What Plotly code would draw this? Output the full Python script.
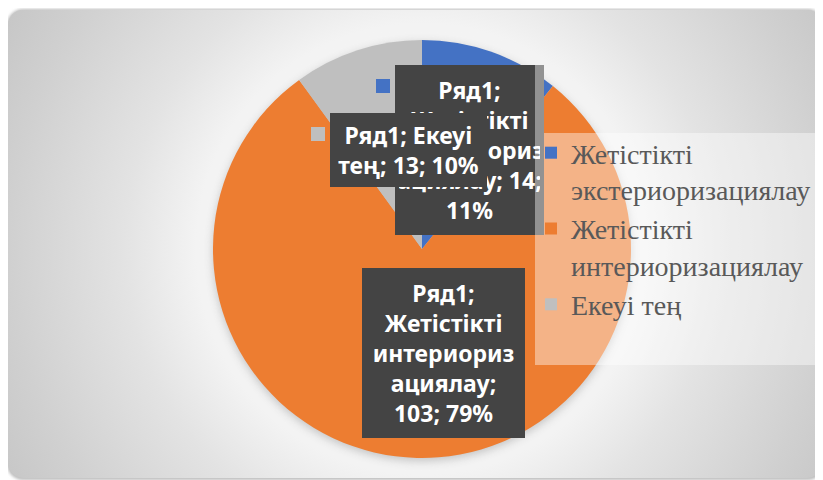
import base64
import plotly.graph_objects as go

# ---------------- data ----------------
SERIES = "Ряд1"
categories = ["Жетістікті экстериоризациялау", "Жетістікті интериоризациялау", "Екеуі тең"]
values = [14, 103, 13]
colors = ["#4472C4", "#ED7D31", "#BFBFBF"]

W, H = 823, 480
OFF = 8  # page body margin: page pixel -> figure pixel


def wrap(text, maxc, wordbreak=None, sep="<br>"):
    wb = wordbreak or maxc
    lines, cur = [], ""
    for w in text.split(" "):
        cand = (cur + " " + w) if cur else w
        if len(cand) <= maxc:
            cur = cand
            continue
        if cur:
            lines.append(cur)
            cur = ""
        while len(w) > maxc:
            lines.append(w[:wb])
            w = w[wb:]
        cur = w
    if cur:
        lines.append(cur)
    return sep.join(lines)


def px(x):
    return (x - OFF) / W


def py(y):
    return 1 - (y - OFF) / H


total = sum(values)
percents = [round(v / total * 100) for v in values]
full_labels = [f"{SERIES}; {c}; {v}; {p}%" for c, v, p in zip(categories, values, percents)]
legend_labels = [wrap(c, 18) for c in categories]

# ---------------- background (card with gradient + glow) ----------------
PCX, PCY = 422 - OFF, 249 - OFF
svg = f"""<svg xmlns="http://www.w3.org/2000/svg" width="{W}" height="{H}" viewBox="0 0 {W} {H}" preserveAspectRatio="none">
<defs>
<radialGradient id="g" gradientUnits="userSpaceOnUse" cx="{PCX}" cy="{PCY}" r="480">
<stop offset="0" stop-color="#f4f4f4"/>
<stop offset="0.47" stop-color="#f3f3f3"/>
<stop offset="0.62" stop-color="#e3e3e3"/>
<stop offset="0.86" stop-color="#d0d0d0"/>
<stop offset="1" stop-color="#c6c6c6"/>
</radialGradient>
<filter id="b" x="-20%" y="-20%" width="140%" height="140%"><feGaussianBlur stdDeviation="1.5"/></filter>
<filter id="b2" x="-20%" y="-20%" width="140%" height="140%"><feGaussianBlur stdDeviation="4"/></filter>
</defs>
<rect x="-1" y="1" width="817" height="471" rx="16" fill="#bdbdbd" filter="url(#b)"/>
<rect x="0" y="2" width="814" height="468" rx="15" fill="url(#g)"/>
<circle cx="{PCX}" cy="{PCY + 3}" r="209" fill="#8a8a8a" opacity="0.45" filter="url(#b2)"/>
</svg>"""
bg_src = "data:image/svg+xml;base64," + base64.b64encode(svg.encode("utf-8")).decode("ascii")

# ---------------- figure ----------------
fig = go.Figure()
fig.add_trace(go.Pie(
    labels=legend_labels,
    values=values,
    sort=False,
    direction="clockwise",
    rotation=0,
    marker=dict(colors=colors, line=dict(width=0)),
    textinfo="none",
    hoverinfo="label+value+percent",
    domain=dict(x=[px(213), px(631)], y=[py(458), py(40)]),
))

label_font = dict(family="Noto Sans, Liberation Sans, sans-serif", size=23, color="white", weight="bold")
BOX = "#444444"
PAD = 4
LEG_X0, LEG_X1, LEG_Y0, LEG_Y1 = 535, 818, 133, 365
# (left, top, right, bottom, maxc, wordbreak) in page pixels; gray drawn over blue
label_boxes = {
    0: (395, 65, 544, 235, 12, 11),
    2: (330, 113, 487, 187, 12, 12),
    1: (362, 268, 525, 438, 10, 10),
}


def box_ann(l, t, r, b, text, bg, font=None):
    return dict(
        text=text, x=px((l + r) / 2), y=py((t + b) / 2), xref="paper", yref="paper",
        xanchor="center", yanchor="middle",
        showarrow=False, align="center", valign="middle",
        width=max(r - l - 2 * PAD, 1), height=max(b - t - 2 * PAD, 1),
        bgcolor=bg, borderpad=PAD, borderwidth=0,
        font=font or label_font,
    )


annotations = []
for i in [0, 2, 1]:
    l, t, r, b, mc, wbk = label_boxes[i]
    annotations.append(box_ann(l, t, r, b, wrap(full_labels[i], mc, wbk), BOX))
    if i == 0:
        # part of the blue label lying under the translucent legend box
        annotations.append(box_ann(LEG_X0, t, r, b, " ", "rgba(255,255,255,0.42)"))

shapes = [
    # legend keys inside data labels
    dict(type="rect", xref="paper", yref="paper", x0=px(376), x1=px(390), y0=py(93), y1=py(79),
         fillcolor=colors[0], line=dict(width=0), layer="above"),
    dict(type="rect", xref="paper", yref="paper", x0=px(311), x1=px(325), y0=py(141), y1=py(127),
         fillcolor=colors[2], line=dict(width=0), layer="above"),
    # legend backdrop
    dict(type="rect", xref="paper", yref="paper", x0=px(LEG_X0), x1=px(LEG_X1), y0=py(LEG_Y1), y1=py(LEG_Y0),
         fillcolor="rgba(255,255,255,0.42)", line=dict(width=0), layer="above"),
]

fig.update_layout(
    width=W, height=H,
    margin=dict(l=0, r=0, t=0, b=0),
    paper_bgcolor="white",
    plot_bgcolor="rgba(0,0,0,0)",
    images=[dict(source=bg_src, xref="paper", yref="paper", x=0, y=1, sizex=1, sizey=1,
                 xanchor="left", yanchor="top", sizing="stretch", layer="below")],
    showlegend=True,
    legend=dict(
        x=px(531), y=py(128), xanchor="left", yanchor="top",
        bgcolor="rgba(0,0,0,0)", borderwidth=0,
        font=dict(family="Liberation Serif, Times New Roman, serif", size=28, color="#595959"),
        valign="top", itemclick=False,
    ),
    annotations=annotations,
    shapes=shapes,
)

fig.write_html("out.html")
